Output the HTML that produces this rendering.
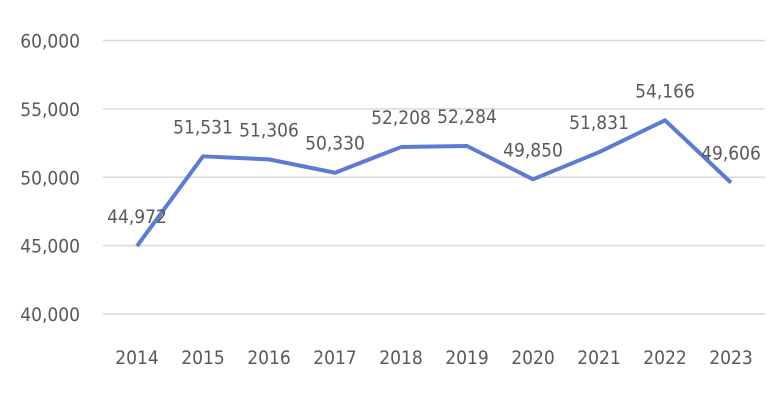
<!DOCTYPE html>
<html><head><meta charset="utf-8"><style>
html,body{margin:0;padding:0;background:#fff;}
svg text{font-family:"Liberation Sans Narrow","DejaVu Sans Condensed","Liberation Sans",sans-serif;fill:#595959;}
</style></head><body>
<svg id="chart" width="780" height="404" xmlns="http://www.w3.org/2000/svg">
<g id="grid"></g><g id="yticks"></g><g id="xticks"></g><g id="series"></g><g id="labels"></g>
</svg>
<script>
const categories=["2014","2015","2016","2017","2018","2019","2020","2021","2022","2023"];
const values=[44972,51531,51306,50330,52208,52284,49850,51831,54166,49606];
const valueLabels=["44,972","51,531","51,306","50,330","52,208","52,284","49,850","51,831","54,166","49,606"];
const yTicks=[40000,45000,50000,55000,60000];
const yTickLabels=["40,000","45,000","50,000","55,000","60,000"];
const NS="http://www.w3.org/2000/svg";
function y(v){return 314-(v-40000)/20000*273.5;}
function x(i){return 137+i*66;}
function mk(t,a,p){const e=document.createElementNS(NS,t);for(const k in a)e.setAttribute(k,a[k]);p.appendChild(e);return e;}
const grid=document.getElementById('grid'),yt=document.getElementById('yticks'),xt=document.getElementById('xticks'),se=document.getElementById('series'),lb=document.getElementById('labels');
yTicks.forEach((v,i)=>{
 const l=mk('line',{x1:103,x2:765,y1:y(v),y2:y(v),stroke:'#d9d9d9','stroke-width':1.5},grid);
 
 
 const t=mk('text',{x:80,y:y(v)+7,'text-anchor':'end','font-size':19},yt);
 t.textContent=yTickLabels[i];
 
 
});
categories.forEach((c,i)=>{
 const t=mk('text',{x:x(i),y:364,'text-anchor':'middle','font-size':19},xt);
 t.textContent=c;
 
 
});
const pts=values.map((v,i)=>x(i)+','+y(v)).join(' ');
const pl=mk('polyline',{points:pts,fill:'none',stroke:'#5b7bd5','stroke-width':4,'stroke-linejoin':'round'},se);


values.forEach((v,i)=>{
 const t=mk('text',{x:x(i),y:y(v)-23,'text-anchor':'middle','font-size':19},lb);
 t.textContent=valueLabels[i];
 
 
});
</script>
</body></html>
